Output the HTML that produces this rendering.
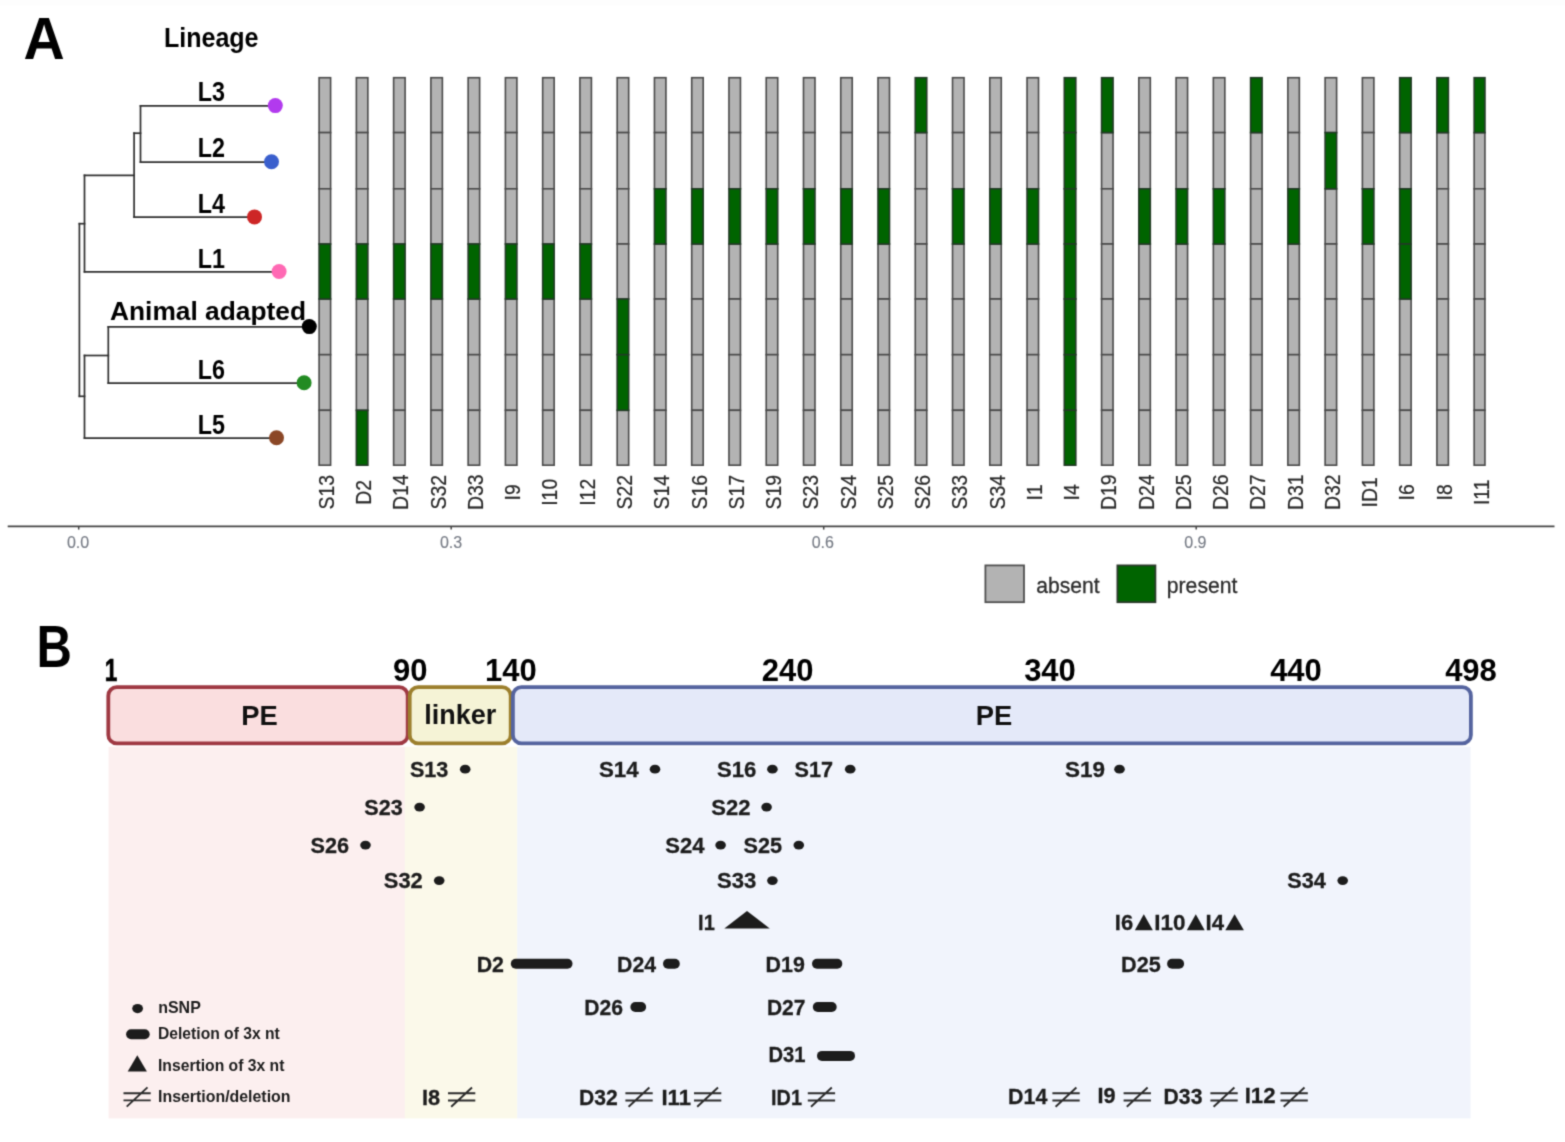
<!DOCTYPE html>
<html lang="en"><head><meta charset="utf-8"><title>Figure</title>
<style>
html,body{margin:0;padding:0;background:#fff;}
body{width:1565px;height:1142px;overflow:hidden;}
svg{display:block;font-family:"Liberation Sans","DejaVu Sans",sans-serif;}
</style></head><body>
<svg width="1565" height="1142" viewBox="0 0 1565 1142">
<defs><filter id="soft" filterUnits="userSpaceOnUse" x="0" y="0" width="1565" height="1142" color-interpolation-filters="sRGB"><feConvolveMatrix order="3" kernelMatrix="1 4 1 4 16 4 1 4 1" divisor="36" edgeMode="duplicate" preserveAlpha="true"/></filter></defs>
<g filter="url(#soft)">
<rect width="1565" height="1142" fill="#fff"/><rect width="1565" height="5.5" fill="#fdfdfd"/>
<g id="tiles" stroke="#4a4a4a" stroke-width="1.6">
<rect x="319.10" y="77.70" width="11.50" height="54.90" fill="#b3b3b3"/>
<rect x="319.10" y="132.60" width="11.50" height="56.20" fill="#b3b3b3"/>
<rect x="319.10" y="188.80" width="11.50" height="55.20" fill="#b3b3b3"/>
<rect x="319.10" y="299.00" width="11.50" height="55.70" fill="#b3b3b3"/>
<rect x="319.10" y="354.70" width="11.50" height="55.60" fill="#b3b3b3"/>
<rect x="319.10" y="410.30" width="11.50" height="54.90" fill="#b3b3b3"/>
<rect x="356.36" y="77.70" width="11.50" height="54.90" fill="#b3b3b3"/>
<rect x="356.36" y="132.60" width="11.50" height="56.20" fill="#b3b3b3"/>
<rect x="356.36" y="188.80" width="11.50" height="55.20" fill="#b3b3b3"/>
<rect x="356.36" y="299.00" width="11.50" height="55.70" fill="#b3b3b3"/>
<rect x="356.36" y="354.70" width="11.50" height="55.60" fill="#b3b3b3"/>
<rect x="393.62" y="77.70" width="11.50" height="54.90" fill="#b3b3b3"/>
<rect x="393.62" y="132.60" width="11.50" height="56.20" fill="#b3b3b3"/>
<rect x="393.62" y="188.80" width="11.50" height="55.20" fill="#b3b3b3"/>
<rect x="393.62" y="299.00" width="11.50" height="55.70" fill="#b3b3b3"/>
<rect x="393.62" y="354.70" width="11.50" height="55.60" fill="#b3b3b3"/>
<rect x="393.62" y="410.30" width="11.50" height="54.90" fill="#b3b3b3"/>
<rect x="430.88" y="77.70" width="11.50" height="54.90" fill="#b3b3b3"/>
<rect x="430.88" y="132.60" width="11.50" height="56.20" fill="#b3b3b3"/>
<rect x="430.88" y="188.80" width="11.50" height="55.20" fill="#b3b3b3"/>
<rect x="430.88" y="299.00" width="11.50" height="55.70" fill="#b3b3b3"/>
<rect x="430.88" y="354.70" width="11.50" height="55.60" fill="#b3b3b3"/>
<rect x="430.88" y="410.30" width="11.50" height="54.90" fill="#b3b3b3"/>
<rect x="468.14" y="77.70" width="11.50" height="54.90" fill="#b3b3b3"/>
<rect x="468.14" y="132.60" width="11.50" height="56.20" fill="#b3b3b3"/>
<rect x="468.14" y="188.80" width="11.50" height="55.20" fill="#b3b3b3"/>
<rect x="468.14" y="299.00" width="11.50" height="55.70" fill="#b3b3b3"/>
<rect x="468.14" y="354.70" width="11.50" height="55.60" fill="#b3b3b3"/>
<rect x="468.14" y="410.30" width="11.50" height="54.90" fill="#b3b3b3"/>
<rect x="505.40" y="77.70" width="11.50" height="54.90" fill="#b3b3b3"/>
<rect x="505.40" y="132.60" width="11.50" height="56.20" fill="#b3b3b3"/>
<rect x="505.40" y="188.80" width="11.50" height="55.20" fill="#b3b3b3"/>
<rect x="505.40" y="299.00" width="11.50" height="55.70" fill="#b3b3b3"/>
<rect x="505.40" y="354.70" width="11.50" height="55.60" fill="#b3b3b3"/>
<rect x="505.40" y="410.30" width="11.50" height="54.90" fill="#b3b3b3"/>
<rect x="542.66" y="77.70" width="11.50" height="54.90" fill="#b3b3b3"/>
<rect x="542.66" y="132.60" width="11.50" height="56.20" fill="#b3b3b3"/>
<rect x="542.66" y="188.80" width="11.50" height="55.20" fill="#b3b3b3"/>
<rect x="542.66" y="299.00" width="11.50" height="55.70" fill="#b3b3b3"/>
<rect x="542.66" y="354.70" width="11.50" height="55.60" fill="#b3b3b3"/>
<rect x="542.66" y="410.30" width="11.50" height="54.90" fill="#b3b3b3"/>
<rect x="579.92" y="77.70" width="11.50" height="54.90" fill="#b3b3b3"/>
<rect x="579.92" y="132.60" width="11.50" height="56.20" fill="#b3b3b3"/>
<rect x="579.92" y="188.80" width="11.50" height="55.20" fill="#b3b3b3"/>
<rect x="579.92" y="299.00" width="11.50" height="55.70" fill="#b3b3b3"/>
<rect x="579.92" y="354.70" width="11.50" height="55.60" fill="#b3b3b3"/>
<rect x="579.92" y="410.30" width="11.50" height="54.90" fill="#b3b3b3"/>
<rect x="617.18" y="77.70" width="11.50" height="54.90" fill="#b3b3b3"/>
<rect x="617.18" y="132.60" width="11.50" height="56.20" fill="#b3b3b3"/>
<rect x="617.18" y="188.80" width="11.50" height="55.20" fill="#b3b3b3"/>
<rect x="617.18" y="244.00" width="11.50" height="55.00" fill="#b3b3b3"/>
<rect x="617.18" y="410.30" width="11.50" height="54.90" fill="#b3b3b3"/>
<rect x="654.44" y="77.70" width="11.50" height="54.90" fill="#b3b3b3"/>
<rect x="654.44" y="132.60" width="11.50" height="56.20" fill="#b3b3b3"/>
<rect x="654.44" y="244.00" width="11.50" height="55.00" fill="#b3b3b3"/>
<rect x="654.44" y="299.00" width="11.50" height="55.70" fill="#b3b3b3"/>
<rect x="654.44" y="354.70" width="11.50" height="55.60" fill="#b3b3b3"/>
<rect x="654.44" y="410.30" width="11.50" height="54.90" fill="#b3b3b3"/>
<rect x="691.70" y="77.70" width="11.50" height="54.90" fill="#b3b3b3"/>
<rect x="691.70" y="132.60" width="11.50" height="56.20" fill="#b3b3b3"/>
<rect x="691.70" y="244.00" width="11.50" height="55.00" fill="#b3b3b3"/>
<rect x="691.70" y="299.00" width="11.50" height="55.70" fill="#b3b3b3"/>
<rect x="691.70" y="354.70" width="11.50" height="55.60" fill="#b3b3b3"/>
<rect x="691.70" y="410.30" width="11.50" height="54.90" fill="#b3b3b3"/>
<rect x="728.96" y="77.70" width="11.50" height="54.90" fill="#b3b3b3"/>
<rect x="728.96" y="132.60" width="11.50" height="56.20" fill="#b3b3b3"/>
<rect x="728.96" y="244.00" width="11.50" height="55.00" fill="#b3b3b3"/>
<rect x="728.96" y="299.00" width="11.50" height="55.70" fill="#b3b3b3"/>
<rect x="728.96" y="354.70" width="11.50" height="55.60" fill="#b3b3b3"/>
<rect x="728.96" y="410.30" width="11.50" height="54.90" fill="#b3b3b3"/>
<rect x="766.22" y="77.70" width="11.50" height="54.90" fill="#b3b3b3"/>
<rect x="766.22" y="132.60" width="11.50" height="56.20" fill="#b3b3b3"/>
<rect x="766.22" y="244.00" width="11.50" height="55.00" fill="#b3b3b3"/>
<rect x="766.22" y="299.00" width="11.50" height="55.70" fill="#b3b3b3"/>
<rect x="766.22" y="354.70" width="11.50" height="55.60" fill="#b3b3b3"/>
<rect x="766.22" y="410.30" width="11.50" height="54.90" fill="#b3b3b3"/>
<rect x="803.48" y="77.70" width="11.50" height="54.90" fill="#b3b3b3"/>
<rect x="803.48" y="132.60" width="11.50" height="56.20" fill="#b3b3b3"/>
<rect x="803.48" y="244.00" width="11.50" height="55.00" fill="#b3b3b3"/>
<rect x="803.48" y="299.00" width="11.50" height="55.70" fill="#b3b3b3"/>
<rect x="803.48" y="354.70" width="11.50" height="55.60" fill="#b3b3b3"/>
<rect x="803.48" y="410.30" width="11.50" height="54.90" fill="#b3b3b3"/>
<rect x="840.74" y="77.70" width="11.50" height="54.90" fill="#b3b3b3"/>
<rect x="840.74" y="132.60" width="11.50" height="56.20" fill="#b3b3b3"/>
<rect x="840.74" y="244.00" width="11.50" height="55.00" fill="#b3b3b3"/>
<rect x="840.74" y="299.00" width="11.50" height="55.70" fill="#b3b3b3"/>
<rect x="840.74" y="354.70" width="11.50" height="55.60" fill="#b3b3b3"/>
<rect x="840.74" y="410.30" width="11.50" height="54.90" fill="#b3b3b3"/>
<rect x="878.00" y="77.70" width="11.50" height="54.90" fill="#b3b3b3"/>
<rect x="878.00" y="132.60" width="11.50" height="56.20" fill="#b3b3b3"/>
<rect x="878.00" y="244.00" width="11.50" height="55.00" fill="#b3b3b3"/>
<rect x="878.00" y="299.00" width="11.50" height="55.70" fill="#b3b3b3"/>
<rect x="878.00" y="354.70" width="11.50" height="55.60" fill="#b3b3b3"/>
<rect x="878.00" y="410.30" width="11.50" height="54.90" fill="#b3b3b3"/>
<rect x="915.26" y="132.60" width="11.50" height="56.20" fill="#b3b3b3"/>
<rect x="915.26" y="188.80" width="11.50" height="55.20" fill="#b3b3b3"/>
<rect x="915.26" y="244.00" width="11.50" height="55.00" fill="#b3b3b3"/>
<rect x="915.26" y="299.00" width="11.50" height="55.70" fill="#b3b3b3"/>
<rect x="915.26" y="354.70" width="11.50" height="55.60" fill="#b3b3b3"/>
<rect x="915.26" y="410.30" width="11.50" height="54.90" fill="#b3b3b3"/>
<rect x="952.52" y="77.70" width="11.50" height="54.90" fill="#b3b3b3"/>
<rect x="952.52" y="132.60" width="11.50" height="56.20" fill="#b3b3b3"/>
<rect x="952.52" y="244.00" width="11.50" height="55.00" fill="#b3b3b3"/>
<rect x="952.52" y="299.00" width="11.50" height="55.70" fill="#b3b3b3"/>
<rect x="952.52" y="354.70" width="11.50" height="55.60" fill="#b3b3b3"/>
<rect x="952.52" y="410.30" width="11.50" height="54.90" fill="#b3b3b3"/>
<rect x="989.78" y="77.70" width="11.50" height="54.90" fill="#b3b3b3"/>
<rect x="989.78" y="132.60" width="11.50" height="56.20" fill="#b3b3b3"/>
<rect x="989.78" y="244.00" width="11.50" height="55.00" fill="#b3b3b3"/>
<rect x="989.78" y="299.00" width="11.50" height="55.70" fill="#b3b3b3"/>
<rect x="989.78" y="354.70" width="11.50" height="55.60" fill="#b3b3b3"/>
<rect x="989.78" y="410.30" width="11.50" height="54.90" fill="#b3b3b3"/>
<rect x="1027.04" y="77.70" width="11.50" height="54.90" fill="#b3b3b3"/>
<rect x="1027.04" y="132.60" width="11.50" height="56.20" fill="#b3b3b3"/>
<rect x="1027.04" y="244.00" width="11.50" height="55.00" fill="#b3b3b3"/>
<rect x="1027.04" y="299.00" width="11.50" height="55.70" fill="#b3b3b3"/>
<rect x="1027.04" y="354.70" width="11.50" height="55.60" fill="#b3b3b3"/>
<rect x="1027.04" y="410.30" width="11.50" height="54.90" fill="#b3b3b3"/>
<rect x="1101.56" y="132.60" width="11.50" height="56.20" fill="#b3b3b3"/>
<rect x="1101.56" y="188.80" width="11.50" height="55.20" fill="#b3b3b3"/>
<rect x="1101.56" y="244.00" width="11.50" height="55.00" fill="#b3b3b3"/>
<rect x="1101.56" y="299.00" width="11.50" height="55.70" fill="#b3b3b3"/>
<rect x="1101.56" y="354.70" width="11.50" height="55.60" fill="#b3b3b3"/>
<rect x="1101.56" y="410.30" width="11.50" height="54.90" fill="#b3b3b3"/>
<rect x="1138.82" y="77.70" width="11.50" height="54.90" fill="#b3b3b3"/>
<rect x="1138.82" y="132.60" width="11.50" height="56.20" fill="#b3b3b3"/>
<rect x="1138.82" y="244.00" width="11.50" height="55.00" fill="#b3b3b3"/>
<rect x="1138.82" y="299.00" width="11.50" height="55.70" fill="#b3b3b3"/>
<rect x="1138.82" y="354.70" width="11.50" height="55.60" fill="#b3b3b3"/>
<rect x="1138.82" y="410.30" width="11.50" height="54.90" fill="#b3b3b3"/>
<rect x="1176.08" y="77.70" width="11.50" height="54.90" fill="#b3b3b3"/>
<rect x="1176.08" y="132.60" width="11.50" height="56.20" fill="#b3b3b3"/>
<rect x="1176.08" y="244.00" width="11.50" height="55.00" fill="#b3b3b3"/>
<rect x="1176.08" y="299.00" width="11.50" height="55.70" fill="#b3b3b3"/>
<rect x="1176.08" y="354.70" width="11.50" height="55.60" fill="#b3b3b3"/>
<rect x="1176.08" y="410.30" width="11.50" height="54.90" fill="#b3b3b3"/>
<rect x="1213.34" y="77.70" width="11.50" height="54.90" fill="#b3b3b3"/>
<rect x="1213.34" y="132.60" width="11.50" height="56.20" fill="#b3b3b3"/>
<rect x="1213.34" y="244.00" width="11.50" height="55.00" fill="#b3b3b3"/>
<rect x="1213.34" y="299.00" width="11.50" height="55.70" fill="#b3b3b3"/>
<rect x="1213.34" y="354.70" width="11.50" height="55.60" fill="#b3b3b3"/>
<rect x="1213.34" y="410.30" width="11.50" height="54.90" fill="#b3b3b3"/>
<rect x="1250.60" y="132.60" width="11.50" height="56.20" fill="#b3b3b3"/>
<rect x="1250.60" y="188.80" width="11.50" height="55.20" fill="#b3b3b3"/>
<rect x="1250.60" y="244.00" width="11.50" height="55.00" fill="#b3b3b3"/>
<rect x="1250.60" y="299.00" width="11.50" height="55.70" fill="#b3b3b3"/>
<rect x="1250.60" y="354.70" width="11.50" height="55.60" fill="#b3b3b3"/>
<rect x="1250.60" y="410.30" width="11.50" height="54.90" fill="#b3b3b3"/>
<rect x="1287.86" y="77.70" width="11.50" height="54.90" fill="#b3b3b3"/>
<rect x="1287.86" y="132.60" width="11.50" height="56.20" fill="#b3b3b3"/>
<rect x="1287.86" y="244.00" width="11.50" height="55.00" fill="#b3b3b3"/>
<rect x="1287.86" y="299.00" width="11.50" height="55.70" fill="#b3b3b3"/>
<rect x="1287.86" y="354.70" width="11.50" height="55.60" fill="#b3b3b3"/>
<rect x="1287.86" y="410.30" width="11.50" height="54.90" fill="#b3b3b3"/>
<rect x="1325.12" y="77.70" width="11.50" height="54.90" fill="#b3b3b3"/>
<rect x="1325.12" y="188.80" width="11.50" height="55.20" fill="#b3b3b3"/>
<rect x="1325.12" y="244.00" width="11.50" height="55.00" fill="#b3b3b3"/>
<rect x="1325.12" y="299.00" width="11.50" height="55.70" fill="#b3b3b3"/>
<rect x="1325.12" y="354.70" width="11.50" height="55.60" fill="#b3b3b3"/>
<rect x="1325.12" y="410.30" width="11.50" height="54.90" fill="#b3b3b3"/>
<rect x="1362.38" y="77.70" width="11.50" height="54.90" fill="#b3b3b3"/>
<rect x="1362.38" y="132.60" width="11.50" height="56.20" fill="#b3b3b3"/>
<rect x="1362.38" y="244.00" width="11.50" height="55.00" fill="#b3b3b3"/>
<rect x="1362.38" y="299.00" width="11.50" height="55.70" fill="#b3b3b3"/>
<rect x="1362.38" y="354.70" width="11.50" height="55.60" fill="#b3b3b3"/>
<rect x="1362.38" y="410.30" width="11.50" height="54.90" fill="#b3b3b3"/>
<rect x="1399.64" y="132.60" width="11.50" height="56.20" fill="#b3b3b3"/>
<rect x="1399.64" y="299.00" width="11.50" height="55.70" fill="#b3b3b3"/>
<rect x="1399.64" y="354.70" width="11.50" height="55.60" fill="#b3b3b3"/>
<rect x="1399.64" y="410.30" width="11.50" height="54.90" fill="#b3b3b3"/>
<rect x="1436.90" y="132.60" width="11.50" height="56.20" fill="#b3b3b3"/>
<rect x="1436.90" y="188.80" width="11.50" height="55.20" fill="#b3b3b3"/>
<rect x="1436.90" y="244.00" width="11.50" height="55.00" fill="#b3b3b3"/>
<rect x="1436.90" y="299.00" width="11.50" height="55.70" fill="#b3b3b3"/>
<rect x="1436.90" y="354.70" width="11.50" height="55.60" fill="#b3b3b3"/>
<rect x="1436.90" y="410.30" width="11.50" height="54.90" fill="#b3b3b3"/>
<rect x="1474.16" y="132.60" width="10.80" height="56.20" fill="#b3b3b3"/>
<rect x="1474.16" y="188.80" width="10.80" height="55.20" fill="#b3b3b3"/>
<rect x="1474.16" y="244.00" width="10.80" height="55.00" fill="#b3b3b3"/>
<rect x="1474.16" y="299.00" width="10.80" height="55.70" fill="#b3b3b3"/>
<rect x="1474.16" y="354.70" width="10.80" height="55.60" fill="#b3b3b3"/>
<rect x="1474.16" y="410.30" width="10.80" height="54.90" fill="#b3b3b3"/>
</g>
<g id="tiles-present" fill="#006400" stroke="#223a26" stroke-width="1.6">
<rect x="319.10" y="244.00" width="11.50" height="55.00"/>
<rect x="356.36" y="244.00" width="11.50" height="55.00"/>
<rect x="356.36" y="410.30" width="11.50" height="54.90"/>
<rect x="393.62" y="244.00" width="11.50" height="55.00"/>
<rect x="430.88" y="244.00" width="11.50" height="55.00"/>
<rect x="468.14" y="244.00" width="11.50" height="55.00"/>
<rect x="505.40" y="244.00" width="11.50" height="55.00"/>
<rect x="542.66" y="244.00" width="11.50" height="55.00"/>
<rect x="579.92" y="244.00" width="11.50" height="55.00"/>
<rect x="617.18" y="299.00" width="11.50" height="55.70"/>
<rect x="617.18" y="354.70" width="11.50" height="55.60"/>
<rect x="654.44" y="188.80" width="11.50" height="55.20"/>
<rect x="691.70" y="188.80" width="11.50" height="55.20"/>
<rect x="728.96" y="188.80" width="11.50" height="55.20"/>
<rect x="766.22" y="188.80" width="11.50" height="55.20"/>
<rect x="803.48" y="188.80" width="11.50" height="55.20"/>
<rect x="840.74" y="188.80" width="11.50" height="55.20"/>
<rect x="878.00" y="188.80" width="11.50" height="55.20"/>
<rect x="915.26" y="77.70" width="11.50" height="54.90"/>
<rect x="952.52" y="188.80" width="11.50" height="55.20"/>
<rect x="989.78" y="188.80" width="11.50" height="55.20"/>
<rect x="1027.04" y="188.80" width="11.50" height="55.20"/>
<rect x="1064.30" y="77.70" width="11.50" height="54.90"/>
<rect x="1064.30" y="132.60" width="11.50" height="56.20"/>
<rect x="1064.30" y="188.80" width="11.50" height="55.20"/>
<rect x="1064.30" y="244.00" width="11.50" height="55.00"/>
<rect x="1064.30" y="299.00" width="11.50" height="55.70"/>
<rect x="1064.30" y="354.70" width="11.50" height="55.60"/>
<rect x="1064.30" y="410.30" width="11.50" height="54.90"/>
<rect x="1101.56" y="77.70" width="11.50" height="54.90"/>
<rect x="1138.82" y="188.80" width="11.50" height="55.20"/>
<rect x="1176.08" y="188.80" width="11.50" height="55.20"/>
<rect x="1213.34" y="188.80" width="11.50" height="55.20"/>
<rect x="1250.60" y="77.70" width="11.50" height="54.90"/>
<rect x="1287.86" y="188.80" width="11.50" height="55.20"/>
<rect x="1325.12" y="132.60" width="11.50" height="56.20"/>
<rect x="1362.38" y="188.80" width="11.50" height="55.20"/>
<rect x="1399.64" y="77.70" width="11.50" height="54.90"/>
<rect x="1399.64" y="188.80" width="11.50" height="55.20"/>
<rect x="1399.64" y="244.00" width="11.50" height="55.00"/>
<rect x="1436.90" y="77.70" width="11.50" height="54.90"/>
<rect x="1474.16" y="77.70" width="10.80" height="54.90"/>
</g>
<g id="collabels" font-size="19.4" fill="#282828" stroke="#282828" stroke-width="0.2" text-anchor="middle">
<text transform="translate(324.85 492.3) rotate(-90) scale(1 1.12)" y="8.1">S13</text>
<text transform="translate(362.11 492.3) rotate(-90) scale(1 1.12)" y="8.1">D2</text>
<text transform="translate(399.37 492.3) rotate(-90) scale(1 1.12)" y="8.1">D14</text>
<text transform="translate(436.63 492.3) rotate(-90) scale(1 1.12)" y="8.1">S32</text>
<text transform="translate(473.89 492.3) rotate(-90) scale(1 1.12)" y="8.1">D33</text>
<text transform="translate(511.15 492.3) rotate(-90) scale(1 1.12)" y="8.1">I9</text>
<text transform="translate(548.41 492.3) rotate(-90) scale(1 1.12)" y="8.1">I10</text>
<text transform="translate(585.67 492.3) rotate(-90) scale(1 1.12)" y="8.1">I12</text>
<text transform="translate(622.93 492.3) rotate(-90) scale(1 1.12)" y="8.1">S22</text>
<text transform="translate(660.19 492.3) rotate(-90) scale(1 1.12)" y="8.1">S14</text>
<text transform="translate(697.45 492.3) rotate(-90) scale(1 1.12)" y="8.1">S16</text>
<text transform="translate(734.71 492.3) rotate(-90) scale(1 1.12)" y="8.1">S17</text>
<text transform="translate(771.97 492.3) rotate(-90) scale(1 1.12)" y="8.1">S19</text>
<text transform="translate(809.23 492.3) rotate(-90) scale(1 1.12)" y="8.1">S23</text>
<text transform="translate(846.49 492.3) rotate(-90) scale(1 1.12)" y="8.1">S24</text>
<text transform="translate(883.75 492.3) rotate(-90) scale(1 1.12)" y="8.1">S25</text>
<text transform="translate(921.01 492.3) rotate(-90) scale(1 1.12)" y="8.1">S26</text>
<text transform="translate(958.27 492.3) rotate(-90) scale(1 1.12)" y="8.1">S33</text>
<text transform="translate(995.53 492.3) rotate(-90) scale(1 1.12)" y="8.1">S34</text>
<text transform="translate(1032.79 492.3) rotate(-90) scale(1 1.12)" y="8.1">I1</text>
<text transform="translate(1070.05 492.3) rotate(-90) scale(1 1.12)" y="8.1">I4</text>
<text transform="translate(1107.31 492.3) rotate(-90) scale(1 1.12)" y="8.1">D19</text>
<text transform="translate(1144.57 492.3) rotate(-90) scale(1 1.12)" y="8.1">D24</text>
<text transform="translate(1181.83 492.3) rotate(-90) scale(1 1.12)" y="8.1">D25</text>
<text transform="translate(1219.09 492.3) rotate(-90) scale(1 1.12)" y="8.1">D26</text>
<text transform="translate(1256.35 492.3) rotate(-90) scale(1 1.12)" y="8.1">D27</text>
<text transform="translate(1293.61 492.3) rotate(-90) scale(1 1.12)" y="8.1">D31</text>
<text transform="translate(1330.87 492.3) rotate(-90) scale(1 1.12)" y="8.1">D32</text>
<text transform="translate(1368.13 492.3) rotate(-90) scale(1 1.12)" y="8.1">ID1</text>
<text transform="translate(1405.39 492.3) rotate(-90) scale(1 1.12)" y="8.1">I6</text>
<text transform="translate(1442.65 492.3) rotate(-90) scale(1 1.12)" y="8.1">I8</text>
<text transform="translate(1479.91 492.3) rotate(-90) scale(1 1.12)" y="8.1">I11</text>
</g>
<g id="tree" stroke="#303030" stroke-width="1.7" stroke-linecap="square" transform="translate(0.7 0.6)">
<line x1="139.8" y1="105.3" x2="274.8" y2="105.3"/>
<line x1="139.8" y1="161.5" x2="271.0" y2="161.5"/>
<line x1="139.8" y1="105.3" x2="139.8" y2="161.5"/>
<line x1="133.4" y1="132.6" x2="139.8" y2="132.6"/>
<line x1="133.4" y1="216.6" x2="254.0" y2="216.6"/>
<line x1="133.4" y1="132.6" x2="133.4" y2="216.6"/>
<line x1="83.8" y1="174.7" x2="133.4" y2="174.7"/>
<line x1="83.8" y1="271.2" x2="278.6" y2="271.2"/>
<line x1="83.8" y1="174.7" x2="83.8" y2="271.2"/>
<line x1="78.7" y1="223.1" x2="83.8" y2="223.1"/>
<line x1="78.7" y1="223.1" x2="78.7" y2="395.7"/>
<line x1="107.6" y1="326.3" x2="308.8" y2="326.3"/>
<line x1="107.6" y1="382.5" x2="303.6" y2="382.5"/>
<line x1="107.6" y1="326.3" x2="107.6" y2="382.5"/>
<line x1="83.8" y1="354.9" x2="107.6" y2="354.9"/>
<line x1="83.8" y1="437.5" x2="276.0" y2="437.5"/>
<line x1="83.8" y1="354.9" x2="83.8" y2="437.5"/>
<line x1="78.7" y1="395.7" x2="83.8" y2="395.7"/>
</g>
<circle cx="275.3" cy="105.6" r="7.5" fill="#b23aee"/>
<circle cx="271.5" cy="161.8" r="7.5" fill="#3a5fcd"/>
<circle cx="254.5" cy="216.9" r="7.5" fill="#cd2626"/>
<circle cx="279.1" cy="271.5" r="7.5" fill="#ff69b4"/>
<circle cx="309.3" cy="326.6" r="7.5" fill="#000"/>
<circle cx="304.1" cy="382.8" r="7.5" fill="#228b22"/>
<circle cx="276.5" cy="437.8" r="7.5" fill="#8b4726"/>
<g font-weight="bold" fill="#000">
<text x="23.6" y="59.3" font-size="59" textLength="41.2" lengthAdjust="spacingAndGlyphs">A</text>
<text x="164" y="47.3" font-size="28" textLength="94.5" lengthAdjust="spacingAndGlyphs">Lineage</text>
<text x="197.8" y="100.6" font-size="27" textLength="27.2" lengthAdjust="spacingAndGlyphs">L3</text>
<text x="197.8" y="156.5" font-size="27" textLength="27.2" lengthAdjust="spacingAndGlyphs">L2</text>
<text x="197.8" y="212.6" font-size="27" textLength="27.2" lengthAdjust="spacingAndGlyphs">L4</text>
<text x="197.8" y="268.4" font-size="27" textLength="27.2" lengthAdjust="spacingAndGlyphs">L1</text>
<text x="197.8" y="379.4" font-size="27" textLength="27.2" lengthAdjust="spacingAndGlyphs">L6</text>
<text x="197.8" y="434.2" font-size="27" textLength="27.2" lengthAdjust="spacingAndGlyphs">L5</text>
<text x="110" y="319.8" font-size="26.5" textLength="196" lengthAdjust="spacingAndGlyphs">Animal adapted</text>
</g>
<line x1="7.7" y1="526.3" x2="1554.5" y2="526.3" stroke="#444" stroke-width="1.8"/>
<g stroke="#444" stroke-width="1.5">
<line x1="78.7" y1="526" x2="78.7" y2="529.6"/>
<line x1="451.2" y1="526" x2="451.2" y2="529.6"/>
<line x1="823.7" y1="526" x2="823.7" y2="529.6"/>
<line x1="1196.2" y1="526" x2="1196.2" y2="529.6"/>
</g>
<g font-size="16" fill="#777c86" stroke="#777c86" stroke-width="0.15" text-anchor="middle">
<text x="78.0" y="548.3">0.0</text>
<text x="451.0" y="548.3">0.3</text>
<text x="822.8" y="548.3">0.6</text>
<text x="1195.4" y="548.3">0.9</text>
</g>
<rect x="985.4" y="565.4" width="38.6" height="36.8" fill="#b3b3b3" stroke="#505050" stroke-width="1.8"/>
<rect x="1117.4" y="565.4" width="38" height="36.8" fill="#006400" stroke="#2c3a2c" stroke-width="1.8"/>
<g font-size="22.2" fill="#2c2c2c" stroke="#2c2c2c" stroke-width="0.3">
<text x="1036.3" y="593" textLength="63.3" lengthAdjust="spacingAndGlyphs">absent</text>
<text x="1166.8" y="593" textLength="70.6" lengthAdjust="spacingAndGlyphs">present</text>
</g>
<g font-weight="bold" fill="#000">
<text x="36.6" y="666.9" font-size="59" textLength="35.4" lengthAdjust="spacingAndGlyphs">B</text>
</g>
<rect x="108.6" y="746.8" width="296.4" height="371.6" fill="#fcefef"/>
<rect x="404.8" y="746.8" width="112.6" height="371.6" fill="#fbf9ea"/>
<rect x="517.2" y="746.8" width="953.4" height="371.6" fill="#f1f4fc"/>
<rect x="108.3" y="687.2" width="299.4" height="56.2" rx="8.5" ry="8.5" fill="#fadedf" stroke="#9f3943" stroke-width="3.8"/>
<rect x="409.7" y="687.2" width="101.0" height="56.2" rx="8.5" ry="8.5" fill="#f5f3d6" stroke="#9c7f2d" stroke-width="3.8"/>
<rect x="512.9" y="687.2" width="958.0" height="56.2" rx="8.5" ry="8.5" fill="#e4e9f9" stroke="#55649f" stroke-width="3.8"/>
<g font-weight="bold" fill="#000" font-size="31" text-anchor="middle">
<text x="111.0" y="680.8" textLength="12.6" lengthAdjust="spacingAndGlyphs" stroke="#000" stroke-width="0.7">1</text>
<text x="410.2" y="680.8">90</text>
<text x="510.8" y="680.8">140</text>
<text x="787.7" y="680.8">240</text>
<text x="1050.0" y="680.8">340</text>
<text x="1296.0" y="680.8">440</text>
<text x="1471.0" y="680.8">498</text>
</g>
<g font-weight="bold" fill="#111" font-size="28.5" text-anchor="middle">
<text x="259.6" y="724.6" textLength="36.5" lengthAdjust="spacingAndGlyphs">PE</text>
<text x="460.3" y="724.4" textLength="72" lengthAdjust="spacingAndGlyphs">linker</text>
<text x="994" y="724.8" textLength="36.5" lengthAdjust="spacingAndGlyphs">PE</text>
</g>
<g id="B" font-weight="bold" fill="#1c1c1c" font-size="22.9">
<text x="409.9" y="776.6" textLength="38.5" lengthAdjust="spacingAndGlyphs" stroke="#1c1c1c" stroke-width="0.3">S13</text>
<ellipse cx="465.2" cy="769.2" rx="5.3" ry="4.4"/>
<text x="598.9" y="776.6" textLength="39.7" lengthAdjust="spacingAndGlyphs" stroke="#1c1c1c" stroke-width="0.3">S14</text>
<ellipse cx="655.0" cy="769.2" rx="5.3" ry="4.4"/>
<text x="717.0" y="776.6" textLength="39.3" lengthAdjust="spacingAndGlyphs" stroke="#1c1c1c" stroke-width="0.3">S16</text>
<ellipse cx="772.4" cy="769.2" rx="5.3" ry="4.4"/>
<text x="794.5" y="776.6" textLength="38.5" lengthAdjust="spacingAndGlyphs" stroke="#1c1c1c" stroke-width="0.3">S17</text>
<ellipse cx="850.2" cy="769.2" rx="5.3" ry="4.4"/>
<text x="1064.9" y="776.6" textLength="40.0" lengthAdjust="spacingAndGlyphs" stroke="#1c1c1c" stroke-width="0.3">S19</text>
<ellipse cx="1119.5" cy="769.2" rx="5.3" ry="4.4"/>
<text x="364.3" y="814.5" textLength="38.4" lengthAdjust="spacingAndGlyphs" stroke="#1c1c1c" stroke-width="0.3">S23</text>
<ellipse cx="419.6" cy="807.1" rx="5.3" ry="4.4"/>
<text x="711.3" y="814.5" textLength="39.2" lengthAdjust="spacingAndGlyphs" stroke="#1c1c1c" stroke-width="0.3">S22</text>
<ellipse cx="766.6" cy="807.1" rx="5.3" ry="4.4"/>
<text x="310.6" y="852.5" textLength="38.5" lengthAdjust="spacingAndGlyphs" stroke="#1c1c1c" stroke-width="0.3">S26</text>
<ellipse cx="365.5" cy="845.1" rx="5.3" ry="4.4"/>
<text x="665.3" y="852.5" textLength="39.2" lengthAdjust="spacingAndGlyphs" stroke="#1c1c1c" stroke-width="0.3">S24</text>
<ellipse cx="720.6" cy="845.1" rx="5.3" ry="4.4"/>
<text x="743.5" y="852.5" textLength="38.5" lengthAdjust="spacingAndGlyphs" stroke="#1c1c1c" stroke-width="0.3">S25</text>
<ellipse cx="798.8" cy="845.1" rx="5.3" ry="4.4"/>
<text x="383.8" y="888.0" textLength="38.9" lengthAdjust="spacingAndGlyphs" stroke="#1c1c1c" stroke-width="0.3">S32</text>
<ellipse cx="439.2" cy="880.6" rx="5.3" ry="4.4"/>
<text x="717.0" y="888.0" textLength="39.3" lengthAdjust="spacingAndGlyphs" stroke="#1c1c1c" stroke-width="0.3">S33</text>
<ellipse cx="772.4" cy="880.6" rx="5.3" ry="4.4"/>
<text x="1287.3" y="888.0" textLength="38.6" lengthAdjust="spacingAndGlyphs" stroke="#1c1c1c" stroke-width="0.3">S34</text>
<ellipse cx="1342.7" cy="880.6" rx="5.3" ry="4.4"/>
<text x="698.1" y="929.9" textLength="16.7" lengthAdjust="spacingAndGlyphs" stroke="#1c1c1c" stroke-width="0.3">I1</text>
<polygon points="724.3,928.5 747.0,911.1 769.8,928.5"/>
<text x="1114.8" y="930.3" textLength="18.3" lengthAdjust="spacingAndGlyphs" stroke="#1c1c1c" stroke-width="0.3">I6</text>
<polygon points="1134.9,930.3 1143.8,914.2 1152.8,930.3"/>
<text x="1154.2" y="930.3" textLength="31.2" lengthAdjust="spacingAndGlyphs" stroke="#1c1c1c" stroke-width="0.3">I10</text>
<polygon points="1186.8,930.3 1195.8,914.2 1204.7,930.3"/>
<text x="1205.6" y="930.3" textLength="18.5" lengthAdjust="spacingAndGlyphs" stroke="#1c1c1c" stroke-width="0.3">I4</text>
<polygon points="1225.3,930.3 1234.6,914.2 1243.9,930.3"/>
<text x="476.7" y="971.5" textLength="27.3" lengthAdjust="spacingAndGlyphs" stroke="#1c1c1c" stroke-width="0.3">D2</text>
<rect x="510.8" y="958.8" width="61.7" height="10.0" rx="5.0"/>
<text x="617.1" y="971.5" textLength="39.0" lengthAdjust="spacingAndGlyphs" stroke="#1c1c1c" stroke-width="0.3">D24</text>
<rect x="663.0" y="958.8" width="16.8" height="10.0" rx="5.0"/>
<text x="765.5" y="971.5" textLength="39.3" lengthAdjust="spacingAndGlyphs" stroke="#1c1c1c" stroke-width="0.3">D19</text>
<rect x="812.0" y="958.8" width="30.3" height="10.0" rx="5.0"/>
<text x="1121.1" y="971.5" textLength="39.7" lengthAdjust="spacingAndGlyphs" stroke="#1c1c1c" stroke-width="0.3">D25</text>
<rect x="1167.1" y="958.8" width="17.0" height="10.0" rx="5.0"/>
<text x="584.2" y="1014.6" textLength="38.7" lengthAdjust="spacingAndGlyphs" stroke="#1c1c1c" stroke-width="0.3">D26</text>
<rect x="630.4" y="1002.0" width="15.7" height="10.0" rx="5.0"/>
<text x="766.9" y="1014.6" textLength="38.5" lengthAdjust="spacingAndGlyphs" stroke="#1c1c1c" stroke-width="0.3">D27</text>
<rect x="812.8" y="1002.0" width="23.9" height="10.0" rx="5.0"/>
<text x="768.4" y="1062.2" textLength="37.0" lengthAdjust="spacingAndGlyphs" stroke="#1c1c1c" stroke-width="0.3">D31</text>
<rect x="817.0" y="1050.9" width="38.0" height="10.0" rx="5.0"/>
<text x="422.0" y="1105.0" textLength="18.2" lengthAdjust="spacingAndGlyphs" stroke="#1c1c1c" stroke-width="0.3">I8</text>
<g stroke="#2b2b2b" stroke-width="1.9" fill="none"><path d="M448.0 1093.3h27.3M448.0 1100.5h27.3M451.2 1106.7L472.0 1087.5"/></g>
<text x="579.1" y="1105.0" textLength="38.7" lengthAdjust="spacingAndGlyphs" stroke="#1c1c1c" stroke-width="0.3">D32</text>
<g stroke="#2b2b2b" stroke-width="1.9" fill="none"><path d="M625.4 1093.3h27.3M625.4 1100.5h27.3M628.6 1106.7L649.4 1087.5"/></g>
<text x="661.5" y="1105.0" textLength="29.4" lengthAdjust="spacingAndGlyphs" stroke="#1c1c1c" stroke-width="0.3">I11</text>
<g stroke="#2b2b2b" stroke-width="1.9" fill="none"><path d="M694.0 1093.3h27.3M694.0 1100.5h27.3M697.2 1106.7L718.0 1087.5"/></g>
<text x="771.1" y="1105.0" textLength="30.9" lengthAdjust="spacingAndGlyphs" stroke="#1c1c1c" stroke-width="0.3">ID1</text>
<g stroke="#2b2b2b" stroke-width="1.9" fill="none"><path d="M807.8 1093.3h27.3M807.8 1100.5h27.3M811.0 1106.7L831.8 1087.5"/></g>
<text x="1008.1" y="1104.4" textLength="39.3" lengthAdjust="spacingAndGlyphs" stroke="#1c1c1c" stroke-width="0.3">D14</text>
<g stroke="#2b2b2b" stroke-width="1.9" fill="none"><path d="M1052.4 1093.3h27.3M1052.4 1100.5h27.3M1055.6 1106.7L1076.4 1087.5"/></g>
<text x="1097.6" y="1102.6" textLength="18.1" lengthAdjust="spacingAndGlyphs" stroke="#1c1c1c" stroke-width="0.3">I9</text>
<g stroke="#2b2b2b" stroke-width="1.9" fill="none"><path d="M1123.6 1093.3h27.3M1123.6 1100.5h27.3M1126.8 1106.7L1147.6 1087.5"/></g>
<text x="1163.6" y="1104.4" textLength="38.8" lengthAdjust="spacingAndGlyphs" stroke="#1c1c1c" stroke-width="0.3">D33</text>
<g stroke="#2b2b2b" stroke-width="1.9" fill="none"><path d="M1210.4 1093.3h27.3M1210.4 1100.5h27.3M1213.6 1106.7L1234.4 1087.5"/></g>
<text x="1244.7" y="1102.6" textLength="30.9" lengthAdjust="spacingAndGlyphs" stroke="#1c1c1c" stroke-width="0.3">I12</text>
<g stroke="#2b2b2b" stroke-width="1.9" fill="none"><path d="M1280.5 1093.3h27.3M1280.5 1100.5h27.3M1283.7 1106.7L1304.5 1087.5"/></g>
</g>
<g font-weight="bold" fill="#1c1c1c" font-size="16.5">
<ellipse cx="137.6" cy="1008.6" rx="5.4" ry="4.6"/>
<text x="158.2" y="1013" textLength="42.6" lengthAdjust="spacingAndGlyphs">nSNP</text>
<rect x="126.1" y="1029.2" width="23.6" height="10" rx="5"/>
<text x="158" y="1039.3" textLength="121.8" lengthAdjust="spacingAndGlyphs">Deletion of 3x nt</text>
<polygon points="127.7,1071.5 137.3,1055.2 146.9,1071.5"/>
<text x="158" y="1070.9" textLength="126.4" lengthAdjust="spacingAndGlyphs">Insertion of 3x nt</text>
<text x="158" y="1101.6" textLength="132.5" lengthAdjust="spacingAndGlyphs">Insertion/deletion</text>
</g>
<g stroke="#2b2b2b" stroke-width="1.9" fill="none"><path d="M123.5 1093.2h27.2M123.5 1100.4h27.2M126.7 1106.6L147.5 1087.4"/></g>
</g>
</svg>
</body></html>
